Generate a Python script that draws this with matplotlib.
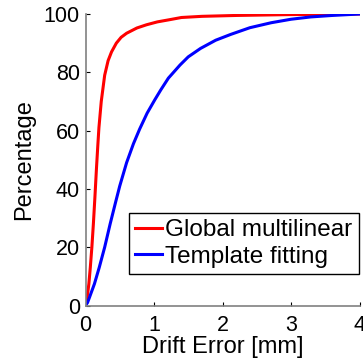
import matplotlib
matplotlib.use("Agg")
import matplotlib.pyplot as plt

plt.rcParams['font.family'] = ['Liberation Sans', 'DejaVu Sans']

# drift error [mm] vs cumulative percentage
x_global = [0, 0.02, 0.049, 0.07, 0.093, 0.115, 0.137, 0.16, 0.18, 0.196, 0.23, 0.28,
            0.33, 0.38, 0.45, 0.52, 0.6, 0.75, 0.89, 1.05, 1.24, 1.4, 1.7, 2.2, 3.0, 4.0]
y_global = [0, 2, 7.4, 13, 20, 28, 37, 47, 55, 61, 70, 79,
            84, 87, 90, 92, 93.4, 95.2, 96.3, 97.3, 98.1, 98.8, 99.2, 99.5, 99.8, 100]

x_template = [0, 0.03, 0.06, 0.13, 0.2, 0.28, 0.36, 0.44, 0.5, 0.6, 0.7, 0.79, 0.9,
              1.01, 1.1, 1.21, 1.38, 1.5, 1.68, 1.9, 2.12, 2.4, 2.71, 3.0, 3.29, 3.6, 4.0]
y_template = [0, 1, 2.9, 7.4, 13, 20, 28, 35.5, 41, 49, 55.5, 60.5, 66,
              70.5, 74, 78, 82.5, 85.3, 88.2, 91, 93, 95.3, 97, 98.2, 99, 99.5, 100]

xticks = [0, 1, 2, 3, 4]
yticks = [0, 20, 40, 60, 80, 100]

fig = plt.figure(figsize=(3.63, 3.64), dpi=100)
ax = fig.add_axes([85.5/363, 1-305.5/364, (359.5-85.5)/363, (305.5-14)/364])

ax.plot(x_global, y_global, color='#ff0000', lw=2.2, label='Global multilinear')
ax.plot(x_template, y_template, color='#0000ff', lw=2.2, label='Template fitting')

ax.set_xlim(0, 4)
ax.set_ylim(0, 100)
ax.set_xticks(xticks)
ax.set_yticks(yticks)
ax.tick_params(direction='in', length=3, width=0.8, labelsize=15.5, pad=4)
ax.tick_params(axis='x', pad=7)
for s in ['top', 'right']:
    ax.spines[s].set_visible(False)
for s in ['left', 'bottom']:
    ax.spines[s].set_color('#808080')
    ax.spines[s].set_linewidth(1.2)

ax.set_xlabel('Drift Error [mm]', fontsize=17, labelpad=0)
ax.set_ylabel('Percentage', fontsize=17, labelpad=6)

leg = ax.legend(loc='lower right', bbox_to_anchor=(358.7/363, 1-274/364),
                bbox_transform=fig.transFigure, borderaxespad=0, fontsize=17.5,
                handlelength=1.1, handletextpad=0.15, labelspacing=0.2,
                borderpad=0.25, fancybox=False, framealpha=1)
leg.get_frame().set_edgecolor('black')
leg.get_frame().set_linewidth(1)

fig.savefig('out.png', dpi=100)
